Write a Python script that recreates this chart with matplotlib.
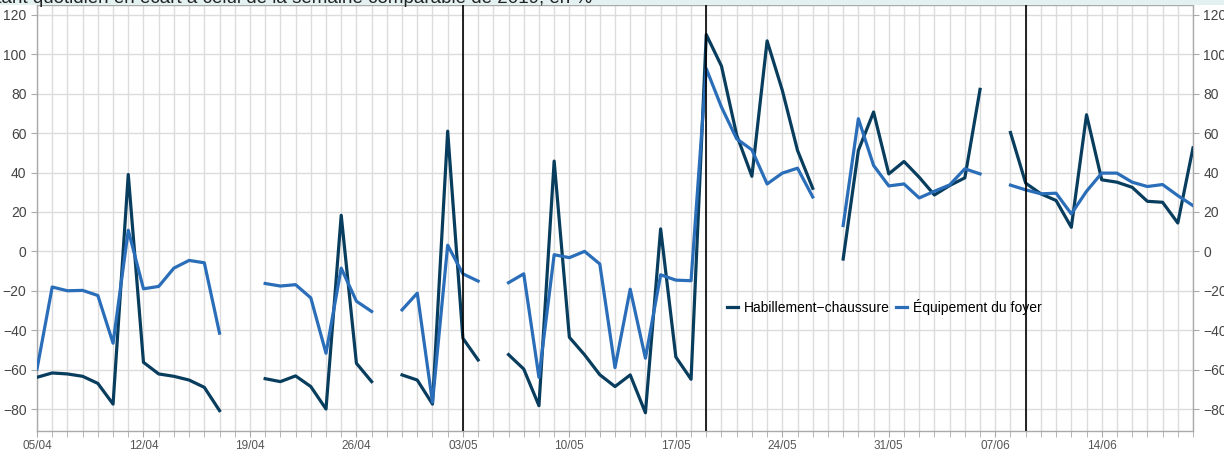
import numpy as np
import pandas as pd
import matplotlib
matplotlib.use("Agg")
import matplotlib.pyplot as plt
from matplotlib.patches import Rectangle

plt.rcParams['font.family'] = ['Liberation Sans', 'DejaVu Sans']

# jours du 05/04 au 20/06 (None = pas de donnée)
dates = pd.date_range("2020-04-05", "2020-06-20", freq="D")

habillement = [
    -63.9, -61.7, -62.2, -63.4, -67.0, -77.5, 39.0, -56.3, -62.2, -63.4, -65.3, -69.0, -80.8,
    None, None,
    -64.6, -66.1, -63.2, -68.6, -80.0, 18.3, -56.8, -66.1,
    None,
    -62.7, -65.3, -77.5, 61.0, -44.1, -55.1,
    None,
    -52.4, -59.7, -78.3, 45.8, -43.6, -52.5, -62.6, -68.6, -62.7, -81.9, 11.4, -53.6, -64.9,
    110.0, 94.0, 59.0, 38.1, 106.8, 81.7, 51.2, 32.0,
    None,
    -3.9, 51.2, 70.7, 39.3, 45.6, 37.6, 28.6, 33.4, 37.3, 82.2,
    None,
    60.3, 34.6, 29.2, 25.8, 12.2, 69.3, 36.3, 35.1, 32.5, 25.4, 24.9, 14.4, 52.5,
]

equipement = [
    -59.7, -18.1, -20.0, -19.8, -22.4, -46.6, 10.7, -19.0, -17.8, -8.5, -4.6, -5.8, -41.5,
    None, None,
    -16.3, -17.6, -16.9, -23.6, -51.7, -8.5, -25.3, -30.5,
    None,
    -29.7, -21.2, -76.6, 3.1, -11.4, -15.1,
    None,
    -15.9, -11.4, -63.9, -1.7, -3.2, 0.0, -6.4, -59.0, -19.2, -54.2, -11.9, -14.6, -14.9,
    92.7, 73.2, 57.1, 51.5, 34.2, 39.7, 42.2, 27.6,
    None,
    13.1, 67.3, 43.6, 33.2, 34.2, 27.1, 30.5, 33.7, 41.9, 39.3,
    None,
    33.6, 31.2, 29.2, 29.5, 19.0, 30.5, 39.7, 39.7, 35.1, 32.9, 33.9, 28.3, 23.2,
]

# dates des traits verticaux
reperes = ["2020-05-03", "2020-05-19", "2020-06-09"]

yticks = list(range(-80, 121, 20))

x = np.arange(len(dates))
hab = np.array([np.nan if v is None else v for v in habillement], dtype=float)
equ = np.array([np.nan if v is None else v for v in equipement], dtype=float)

fig = plt.figure(figsize=(12.24, 4.5), dpi=100)
ax = fig.add_axes([37 / 1224, 1 - 430.7 / 450, 1156 / 1224, 425.7 / 450])

# bandeau du titre (coupé en haut et à gauche)
fig.patches.append(Rectangle((0, 1 - 5 / 450), 1, 5 / 450, transform=fig.transFigure,
                             facecolor="#e4f1f1", edgecolor="none", zorder=0))
fig.text(-40 / 1224, 1 - 3 / 450,
         "Montant quotidien en écart à celui de la semaine comparable de 2019, en %",
         fontsize=13.5, color="#222222", va="baseline", ha="left")

ax.plot(x, hab, color="#083d5e", lw=2.3, label="Habillement\u2212chaussure", zorder=3)
ax.plot(x, equ, color="#2a6db8", lw=2.3, label="Équipement du foyer", zorder=3)

for r in reperes:
    ax.axvline(dates.get_loc(pd.Timestamp(r)), color="black", lw=1.2, zorder=4)

ax.set_xlim(0, len(dates) - 1)
ax.set_ylim(-91, 125)
ax.set_yticks(yticks)
ax.set_xticks(x, minor=True)
ax.set_xticks(x[::7])
ax.set_xticklabels([d.strftime("%d/%m") for d in dates[::7]])

ax.grid(True, which="both", axis="x", color="#dcdcdc", lw=1)
ax.grid(True, which="major", axis="y", color="#dcdcdc", lw=1)
ax.set_axisbelow(True)

for s in ax.spines.values():
    s.set_color("#aaaaaa")
    s.set_linewidth(1)

ax.tick_params(axis="x", which="both", length=4, color="#aaaaaa", labelsize=8.5,
               labelcolor="#555555", pad=3)
ax.tick_params(axis="y", which="both", length=4, color="#aaaaaa", labelsize=10,
               labelcolor="#444444", left=True, right=True, labelleft=True, labelright=True,
               direction="out")

leg = ax.legend(loc="center", bbox_to_anchor=(0.733, 0.29), ncol=2, frameon=False,
                fontsize=10, handlelength=0.8, handletextpad=0.4, columnspacing=0.5)

fig.savefig("out.png", dpi=100)
